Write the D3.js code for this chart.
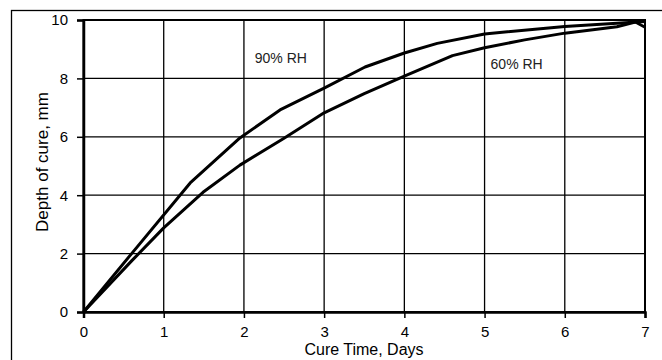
<!DOCTYPE html>
<html>
<head>
<meta charset="utf-8">
<script src="https://cdn.jsdelivr.net/npm/d3@7"></script>
<style>
  html, body { margin: 0; padding: 0; background: #fff; }
  svg { display: block; font-family: "Liberation Sans", Arial, sans-serif; }
</style>
</head>
<body>
<div id="chart"></div>
<script>
// days vs depth of cure (mm)
const rh90 = [
  [0, 0], [0.6, 2.0], [1.33, 4.42], [1.95, 5.96], [2.45, 6.92], [3.0, 7.67],
  [3.51, 8.39], [4.0, 8.87], [4.41, 9.2], [5.0, 9.52], [6.0, 9.78],
  [6.7, 9.9], [7.0, 9.95]
];
const rh60 = [
  [0, 0], [0.6, 1.75], [1.0, 2.88], [1.49, 4.1], [1.95, 5.03], [2.5, 5.95],
  [3.0, 6.82], [3.5, 7.48], [4.0, 8.08], [4.6, 8.78], [5.0, 9.05],
  [5.5, 9.32], [6.0, 9.55], [6.65, 9.77], [6.88, 9.93], [7.0, 9.75]
];
const xTicks = [0, 1, 2, 3, 4, 5, 6, 7];
const yTicks = [0, 2, 4, 6, 8, 10];
const labels = [
  { text: "90% RH", x: 2.46, y: 8.53 },
  { text: "60% RH", x: 5.4, y: 8.32 }
];

document.addEventListener("DOMContentLoaded", () => {
  const width = 662, height = 360;
  const margin = { top: 20, right: 17, bottom: 48, left: 83.5 };

  const svg = d3.select("#chart")
    .append("svg")
    .attr("width", width)
    .attr("height", height);

  // outer frame (runs off the right and bottom edges)
  svg.append("rect")
    .attr("x", 11.5).attr("y", 10.5)
    .attr("width", 700).attr("height", 400)
    .attr("fill", "none").attr("stroke", "#000").attr("stroke-width", 1.3);

  const x = d3.scaleLinear().domain([0, 7]).range([margin.left, width - margin.right]);
  const y = d3.scaleLinear().domain([0, 10]).range([height - margin.bottom, margin.top]);

  const g = svg.append("g");

  // grid
  g.selectAll(".vgrid").data(xTicks).join("line")
    .attr("x1", d => x(d)).attr("x2", d => x(d))
    .attr("y1", y(0)).attr("y2", y(10))
    .attr("stroke", "#000").attr("stroke-width", 1.3);
  g.selectAll(".hgrid").data(yTicks).join("line")
    .attr("x1", x(0)).attr("x2", x(7))
    .attr("y1", d => y(d)).attr("y2", d => y(d))
    .attr("stroke", "#000").attr("stroke-width", 1.3);

  // plot border
  g.append("rect")
    .attr("x", x(0)).attr("y", y(10))
    .attr("width", x(7) - x(0)).attr("height", y(0) - y(10))
    .attr("fill", "none").attr("stroke", "#000").attr("stroke-width", 2);

  const xAxis = g.append("g")
    .attr("transform", `translate(0,${y(0)})`)
    .call(d3.axisBottom(x).tickValues(xTicks).tickSize(6).tickPadding(8).tickFormat(d3.format("d")));
  const yAxis = g.append("g")
    .attr("transform", `translate(${x(0)},0)`)
    .call(d3.axisLeft(y).tickValues(yTicks).tickSize(6.5).tickPadding(9).tickFormat(d3.format("d")));

  [xAxis, yAxis].forEach(a => {
    a.select(".domain").attr("stroke-width", 2.5);
    a.selectAll(".tick line").attr("stroke-width", 1.5);
    a.selectAll(".tick text")
      .attr("font-family", "Liberation Sans, Arial, sans-serif")
      .attr("font-size", 15).attr("fill", "#000");
  });

  const line = d3.line().x(d => x(d[0])).y(d => y(d[1]));
  [rh90, rh60].forEach(s => {
    g.append("path").datum(s)
      .attr("d", line)
      .attr("fill", "none").attr("stroke", "#000")
      .attr("stroke-width", 3).attr("stroke-linejoin", "round");
  });

  g.selectAll(".lbl").data(labels).join("text")
    .attr("x", d => x(d.x)).attr("y", d => y(d.y))
    .attr("text-anchor", "middle")
    .attr("font-size", 14).attr("fill", "#222")
    .text(d => d.text);

  // axis title sits at the very bottom edge, kept fully visible
  svg.append("text")
    .attr("x", 364).attr("y", 355)
    .attr("text-anchor", "middle").attr("font-size", 16)
    .text("Cure Time, Days");

  svg.append("text")
    .attr("transform", `translate(48,162) rotate(-90)`)
    .attr("text-anchor", "middle").attr("font-size", 17)
    .text("Depth of cure, mm");
});
</script>
</body>
</html>
